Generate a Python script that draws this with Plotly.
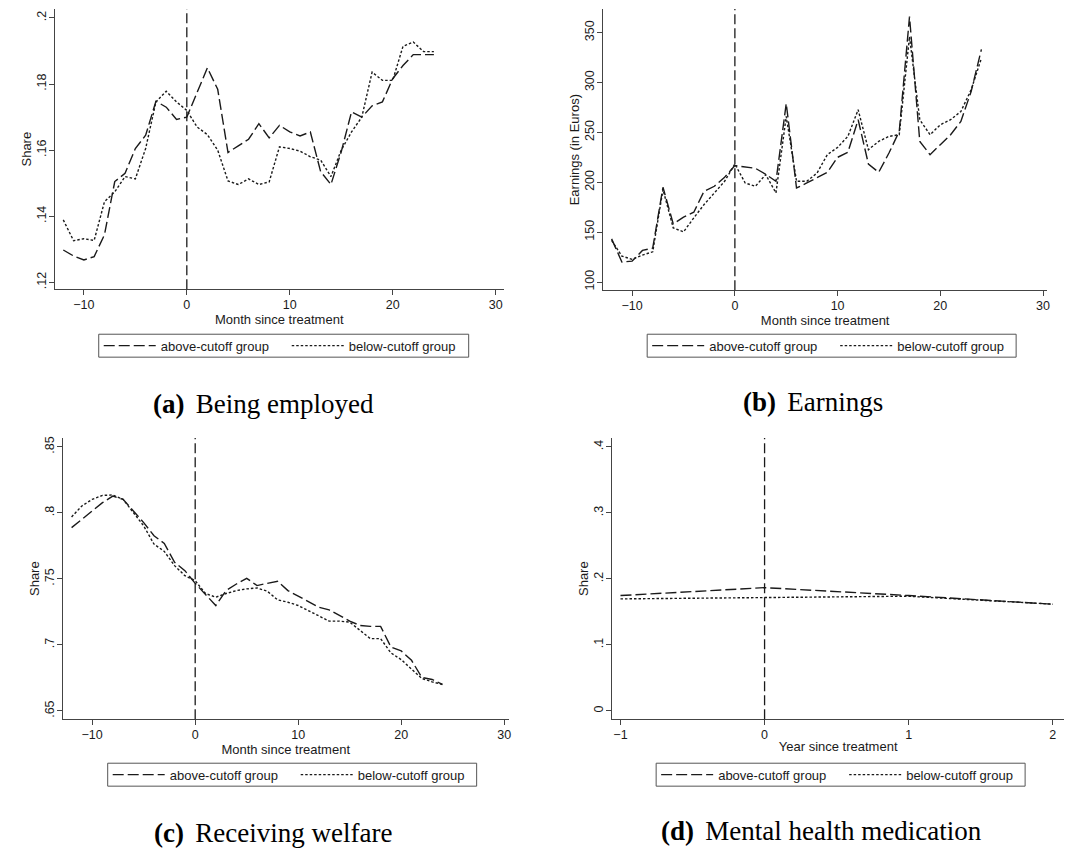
import plotly.graph_objects as go

# ---------------- data ----------------
months = list(range(-12, 25))

emp_above = [0.1298, 0.1280, 0.1268, 0.1278, 0.1344, 0.1505, 0.1530, 0.1605, 0.1645, 0.1748,
             0.1730, 0.1693, 0.1700, 0.1776, 0.1849, 0.1784, 0.1593, 0.1613, 0.1633, 0.1680,
             0.1637, 0.1675, 0.1655, 0.1643, 0.1655, 0.1535, 0.1496, 0.1595, 0.1716, 0.1700,
             0.1734, 0.1746, 0.1816, 0.1856, 0.1889, 0.1889, 0.1889]
emp_below = [0.1389, 0.1326, 0.1332, 0.1327, 0.1444, 0.1474, 0.1520, 0.1513, 0.1605, 0.1746,
             0.1778, 0.1746, 0.1720, 0.1670, 0.1647, 0.1600, 0.1507, 0.1496, 0.1513, 0.1496,
             0.1504, 0.1610, 0.1605, 0.1597, 0.1580, 0.1570, 0.1520, 0.1600, 0.1655, 0.1700,
             0.1836, 0.1811, 0.1811, 0.1914, 0.1927, 0.1898, 0.1898]

earn_above = [143.3, 120.0, 121.0, 131.7, 134.0, 195.0, 158.3, 165.0, 170.0, 191.0,
              196.0, 205.0, 216.7, 215.0, 214.0, 208.0, 201.0, 279.0, 194.3, 199.3,
              204.3, 210.0, 225.0, 230.0, 262.7, 218.3, 210.0, 229.3, 251.0, 366.0,
              241.0, 227.7, 237.7, 247.7, 261.0, 291.0, 333.3]
earn_below = [141.7, 126.0, 122.7, 127.0, 130.3, 192.7, 154.3, 150.3, 164.3, 177.7,
              189.3, 201.0, 218.3, 199.3, 196.0, 207.7, 189.3, 266.0, 201.0, 201.0,
              209.3, 227.7, 235.0, 246.0, 272.7, 232.7, 241.0, 246.0, 247.7, 346.0,
              262.7, 247.7, 257.7, 262.7, 271.0, 292.7, 324.3]

wel_above = [0.7889, 0.7952, 0.8008, 0.8078, 0.8128, 0.8103, 0.8015, 0.7927, 0.7827, 0.7769,
             0.7626, 0.7563, 0.7467, 0.7387, 0.7299, 0.7412, 0.7462, 0.7505, 0.7450, 0.7467,
             0.7482, 0.7412, 0.7369, 0.7324, 0.7286, 0.7266, 0.7224, 0.7181, 0.7148, 0.7141,
             0.7141, 0.6985, 0.6955, 0.6884, 0.6754, 0.6739, 0.6701]
wel_below = [0.7970, 0.8053, 0.8103, 0.8133, 0.8136, 0.8103, 0.8003, 0.7902, 0.7764, 0.7709,
             0.7601, 0.7525, 0.7487, 0.7390, 0.7362, 0.7390, 0.7412, 0.7425, 0.7432, 0.7407,
             0.7342, 0.7324, 0.7299, 0.7261, 0.7224, 0.7181, 0.7181, 0.7173, 0.7111, 0.7048,
             0.7048, 0.6940, 0.6889, 0.6814, 0.6746, 0.6721, 0.6701]

years = [-1, 0, 1, 2]
med_above = [0.1749, 0.1869, 0.1749, 0.1618]
med_below = [0.1698, 0.1724, 0.1739, 0.1618]

month_ticks = [-10, 0, 10, 20, 30]
year_ticks = [-1, 0, 1, 2]
emp_ticks = [0.12, 0.14, 0.16, 0.18, 0.2]
emp_labels = [".12", ".14", ".16", ".18", ".2"]
earn_ticks = [100, 150, 200, 250, 300, 350]
earn_labels = ["100", "150", "200", "250", "300", "350"]
wel_ticks = [0.65, 0.7, 0.75, 0.8, 0.85]
wel_labels = [".65", ".7", ".75", ".8", ".85"]
med_ticks = [0, 0.1, 0.2, 0.3, 0.4]
med_labels = ["0", ".1", ".2", ".3", ".4"]

names = ["above-cutoff group", "below-cutoff group"]
captions = ["<b>(a)</b>&nbsp;&#8198;Being employed", "<b>(b)</b>&nbsp;&#8198;Earnings",
            "<b>(c)</b>&nbsp;&#8198;Receiving welfare", "<b>(d)</b>&nbsp;&#8198;Mental health medication"]

# ---------------- layout helpers ----------------
W, H = 1067, 853
def px_x(p):
    return p / W
def px_y(p):
    return 1 - p / H

SANS = "Arial, 'Liberation Sans', sans-serif"
SERIF = "'Liberation Serif', 'Times New Roman', serif"
INK = "#1a1a1a"
AX = "#444444"

panels = [
    dict(x=months, a=emp_above, b=emp_below, xd=(55, 505), yd=(7, 288),
         xr=(-12.82, 30.77), yr=(0.1179, 0.2027), xt=month_ticks, yt=emp_ticks, yl=emp_labels,
         xtitle="Month since treatment", ytitle="Share",
         box=(99, 470, 333, 356), cap=(264, 403)),
    dict(x=months, a=earn_above, b=earn_below, xd=(605, 1050), yd=(7, 289),
         xr=(-12.81, 30.39), yr=(91.7, 373.7), xt=month_ticks, yt=earn_ticks, yl=earn_labels,
         xtitle="Month since treatment", ytitle="Earnings (in Euros)",
         box=(649, 1019, 333, 356), cap=(815, 401)),
    dict(x=months, a=wel_above, b=wel_below, xd=(63, 510), yd=(437, 719),
         xr=(-12.85, 30.42), yr=(0.6437, 0.8568), xt=month_ticks, yt=wel_ticks, yl=wel_labels,
         xtitle="Month since treatment", ytitle="Share",
         box=(108, 478, 763, 786), cap=(274, 833)),
    dict(x=years, a=med_above, b=med_below, xd=(614, 1067), yd=(437, 719),
         xr=(-1.057, 2.078), yr=(-0.0126, 0.4136), xt=year_ticks, yt=med_ticks, yl=med_labels,
         xtitle="Year since treatment", ytitle="Share",
         box=(658, 1028, 763, 786), cap=(824, 831)),
]

fig = go.Figure()
layout = dict(width=W, height=H, margin=dict(l=0, r=0, t=0, b=0),
              paper_bgcolor="white", plot_bgcolor="white", hovermode=False,
              font=dict(family=SANS, size=12, color=INK), shapes=[], annotations=[])

tickfont = dict(size=12.5, family=SANS, color=INK)
textfont = dict(size=13, family=SANS, color=INK)

for i, p in enumerate(panels):
    k = "" if i == 0 else str(i + 1)
    xa, ya = "x" + k, "y" + k
    lg = "legend" + k
    fig.add_trace(go.Scatter(x=p["x"], y=p["a"], mode="lines", name=names[0],
                             line=dict(color=INK, width=1.4, dash="11px,4px"),
                             xaxis=xa, yaxis=ya, legend=lg))
    fig.add_trace(go.Scatter(x=p["x"], y=p["b"], mode="lines", name=names[1],
                             line=dict(color=INK, width=1.4, dash="2.5px,2px"),
                             xaxis=xa, yaxis=ya, legend=lg))
    layout["xaxis" + k] = dict(domain=[px_x(p["xd"][0]), px_x(p["xd"][1])], range=list(p["xr"]),
                               anchor=ya, tickvals=p["xt"], ticks="outside", ticklen=5,
                               tickcolor=AX, showline=True, linecolor=AX, linewidth=1,
                               showgrid=False, zeroline=False, ticklabelstandoff=-1,
                               tickfont=tickfont,
                               title=dict(text=p["xtitle"], font=textfont, standoff=0))
    layout["yaxis" + k] = dict(domain=[px_y(p["yd"][1]), px_y(p["yd"][0])], range=list(p["yr"]),
                               anchor=xa, tickvals=p["yt"], ticktext=p["yl"], ticks="outside",
                               ticklen=5, tickcolor=AX, showline=True, linecolor=AX, linewidth=1,
                               showgrid=False, zeroline=False, tickangle=-90, ticklabelstandoff=-2,
                               tickfont=tickfont,
                               title=dict(text=p["ytitle"], font=textfont, standoff=0))
    bx0, bx1, by0, by1 = p["box"]
    layout[lg] = dict(orientation="h", x=px_x(bx0), xanchor="left",
                      y=px_y((by0 + by1) / 2), yanchor="middle", borderwidth=0,
                      bgcolor="rgba(0,0,0,0)", entrywidth=121, entrywidthmode="pixels",
                      font=textfont, itemwidth=52)
    layout["shapes"].append(dict(type="rect", xref="paper", yref="paper",
                                 x0=px_x(bx0), x1=px_x(bx1), y0=px_y(by1), y1=px_y(by0),
                                 line=dict(color="#555555", width=1), fillcolor="rgba(0,0,0,0)"))
    layout["shapes"].append(dict(type="line", xref=xa, yref=ya + " domain", x0=0, x1=0, y0=0, y1=1,
                                 line=dict(color=INK, width=1.3, dash="10px,4px")))
    layout["annotations"].append(dict(text=captions[i], xref="paper", yref="paper",
                                      x=px_x(p["cap"][0]), y=px_y(p["cap"][1]), xanchor="center",
                                      yanchor="middle", showarrow=False,
                                      font=dict(family=SERIF, size=27, color="black")))

fig.update_layout(**layout)
fig.write_html("out.html", config={"displayModeBar": False, "staticPlot": True},
               post_script="document.body.style.margin='0';document.body.style.overflow='hidden';")
